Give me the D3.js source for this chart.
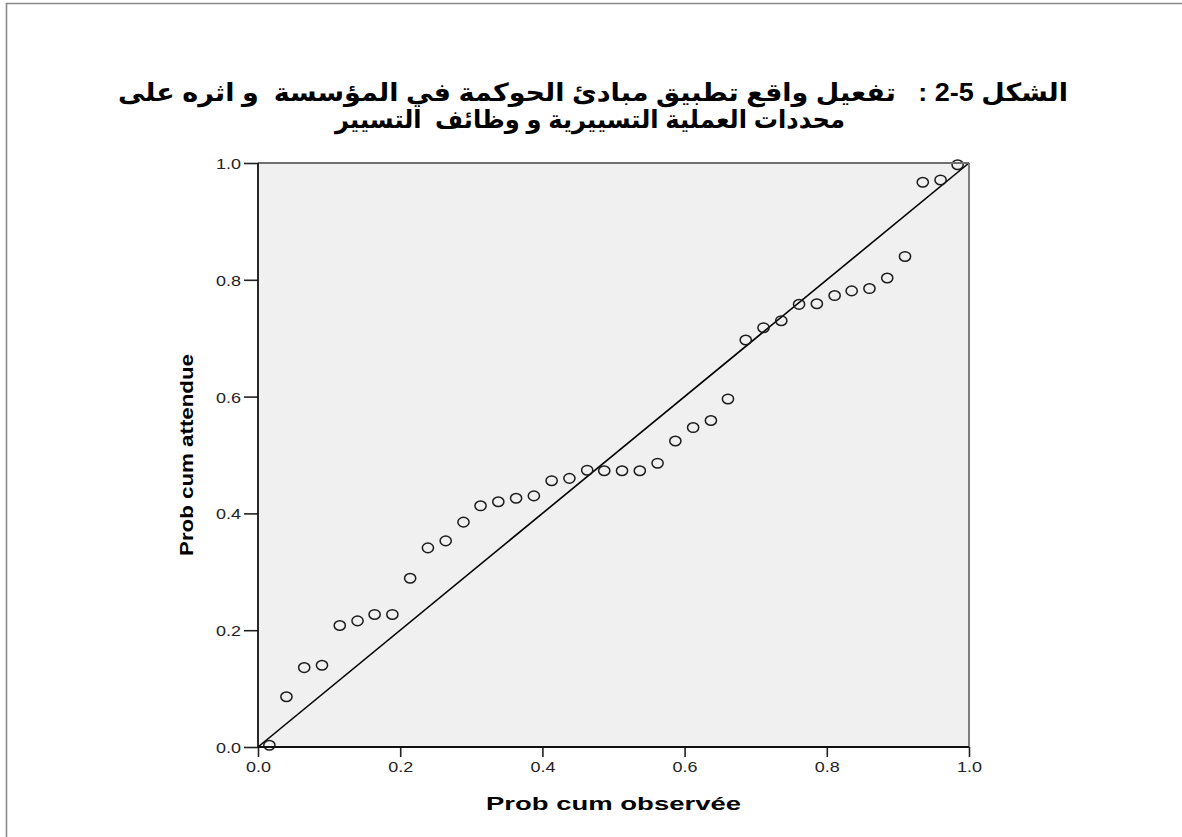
<!DOCTYPE html>
<html>
<head>
<meta charset="utf-8">
<script src="https://cdn.jsdelivr.net/npm/d3@7"></script>
<style>
  html, body { margin: 0; padding: 0; background: #fff; }
  svg { display: block; }
  .title { white-space: pre; }
</style>
</head>
<body>
<svg id="chart" width="1182" height="837"></svg>
<script>
// Observed cumulative probability (x) and expected cumulative probability (y)
const probObservee = [0.016, 0.040, 0.065, 0.090, 0.115, 0.140, 0.164, 0.189, 0.214, 0.239,
                      0.264, 0.289, 0.313, 0.338, 0.363, 0.388, 0.413, 0.438, 0.463, 0.487,
                      0.512, 0.537, 0.562, 0.587, 0.612, 0.637, 0.661, 0.686, 0.711, 0.736,
                      0.761, 0.786, 0.811, 0.835, 0.860, 0.885, 0.910, 0.935, 0.960, 0.984];
const probAttendue = [0.003, 0.086, 0.136, 0.140, 0.208, 0.216, 0.227, 0.227, 0.289, 0.341,
                      0.353, 0.385, 0.413, 0.420, 0.426, 0.430, 0.456, 0.460, 0.474, 0.473,
                      0.473, 0.473, 0.486, 0.524, 0.547, 0.559, 0.596, 0.697, 0.718, 0.730,
                      0.758, 0.759, 0.773, 0.781, 0.785, 0.803, 0.840, 0.967, 0.971, 0.997];
const tickValues = [0, 0.2, 0.4, 0.6, 0.8, 1.0];
const tickLabels = ["0.0", "0.2", "0.4", "0.6", "0.8", "1.0"];
const referenceLine = [0, 1];

const titleLines = [
  "الشكل 5-2 :   تفعيل واقع تطبيق مبادئ الحوكمة في المؤسسة  و اثره على",
  "محددات العملية التسييرية و وظائف  التسيير"
];
const xTitle = "Prob cum observée";
const yTitle = "Prob cum attendue";

const svg = d3.select("#chart");
const W = 1182, H = 837;
const plot = { left: 258, right: 969, top: 163, bottom: 747 };

const x = d3.scaleLinear().domain([0, 1]).range([plot.left, plot.right]);
const y = d3.scaleLinear().domain([0, 1]).range([plot.bottom, plot.top]);

svg.append("rect").attr("width", W).attr("height", H).attr("fill", "#fff");

// outer page frame (top and left edges)
svg.append("line").attr("x1", 6).attr("x2", W).attr("y1", 3.5).attr("y2", 3.5)
  .attr("stroke", "#8a8a8a").attr("stroke-width", 1.6);
svg.append("line").attr("x1", 6.5).attr("x2", 6.5).attr("y1", 3).attr("y2", H)
  .attr("stroke", "#8a8a8a").attr("stroke-width", 1.6);

// title, two centred lines
const fontStack = "'Liberation Sans', Arial, 'DejaVu Sans', sans-serif";
const titleSpec = [
  { cx: 593, y: 101, len: 950 },
  { cx: 590, y: 128, len: 510 }
];
svg.selectAll("text.title").data(titleLines).join("text")
  .attr("class", "title")
  .attr("x", (d, i) => titleSpec[i].cx)
  .attr("y", (d, i) => titleSpec[i].y)
  .attr("text-anchor", "middle")
  .attr("direction", "rtl")
  .attr("font-family", fontStack)
  .attr("font-weight", "bold")
  .attr("font-size", 25)
  .attr("textLength", (d, i) => titleSpec[i].len)
  .attr("lengthAdjust", "spacingAndGlyphs")
  .attr("fill", "#000")
  .text(d => d);

// plot background
svg.append("rect")
  .attr("x", x(0)).attr("y", y(1))
  .attr("width", x(1) - x(0)).attr("height", y(0) - y(1))
  .attr("fill", "#f0f0f0");

// reference diagonal
svg.append("line")
  .attr("x1", x(referenceLine[0])).attr("y1", y(referenceLine[0]))
  .attr("x2", x(referenceLine[1])).attr("y2", y(referenceLine[1]))
  .attr("stroke", "#000").attr("stroke-width", 1.6);

// points
svg.append("g").selectAll("ellipse")
  .data(probObservee.map((v, i) => [v, probAttendue[i]]))
  .join("ellipse")
  .attr("cx", d => x(d[0]))
  .attr("cy", d => y(d[1]))
  .attr("rx", 5.6).attr("ry", 4.8)
  .attr("fill", "none")
  .attr("stroke", "#1a1a1a")
  .attr("stroke-width", 1.5);

// axes
const fmt = (d) => tickLabels[tickValues.indexOf(d)];
const yAxis = d3.axisLeft(y).tickValues(tickValues).tickFormat(fmt).tickSize(14).tickPadding(3);
const xAxis = d3.axisBottom(x).tickValues(tickValues).tickFormat(fmt).tickSize(10).tickPadding(4);

const gy = svg.append("g").attr("transform", `translate(${plot.left},0)`).call(yAxis);
const gx = svg.append("g").attr("transform", `translate(0,${plot.bottom})`).call(xAxis);
[gx, gy].forEach(g => {
  g.select(".domain").remove();
  g.selectAll(".tick line").attr("stroke", "#222").attr("stroke-width", 1.6);
  g.selectAll(".tick text")
    .attr("font-family", fontStack)
    .attr("font-size", 15)
    .attr("fill", "#222")
    .attr("textLength", 25)
    .attr("lengthAdjust", "spacingAndGlyphs");
});
gy.selectAll(".tick text").attr("dy", "0.36em");
gx.selectAll(".tick text").attr("dy", "0.75em");

// plot frame: top/right in grey, left/bottom in black
svg.append("line").attr("x1", x(0)).attr("x2", x(1)).attr("y1", y(1)).attr("y2", y(1))
  .attr("stroke", "#707070").attr("stroke-width", 1.8);
svg.append("line").attr("x1", x(1)).attr("x2", x(1)).attr("y1", y(1)).attr("y2", y(0))
  .attr("stroke", "#707070").attr("stroke-width", 1.8);
svg.append("line").attr("x1", x(0)).attr("x2", x(0)).attr("y1", y(1)).attr("y2", y(0))
  .attr("stroke", "#111").attr("stroke-width", 1.8);
svg.append("line").attr("x1", x(0)).attr("x2", x(1)).attr("y1", y(0)).attr("y2", y(0))
  .attr("stroke", "#111").attr("stroke-width", 1.8);

// axis titles
svg.append("text")
  .attr("x", (plot.left + plot.right) / 2).attr("y", 810)
  .attr("text-anchor", "middle")
  .attr("font-family", fontStack).attr("font-weight", "bold").attr("font-size", 18)
  .attr("textLength", 255).attr("lengthAdjust", "spacingAndGlyphs")
  .attr("fill", "#000")
  .text(xTitle);

svg.append("text")
  .attr("transform", `translate(193,${(plot.top + plot.bottom) / 2}) rotate(-90)`)
  .attr("text-anchor", "middle")
  .attr("font-family", fontStack).attr("font-weight", "bold").attr("font-size", 19)
  .attr("textLength", 202).attr("lengthAdjust", "spacingAndGlyphs")
  .attr("fill", "#000")
  .text(yTitle);
</script>
</body>
</html>
